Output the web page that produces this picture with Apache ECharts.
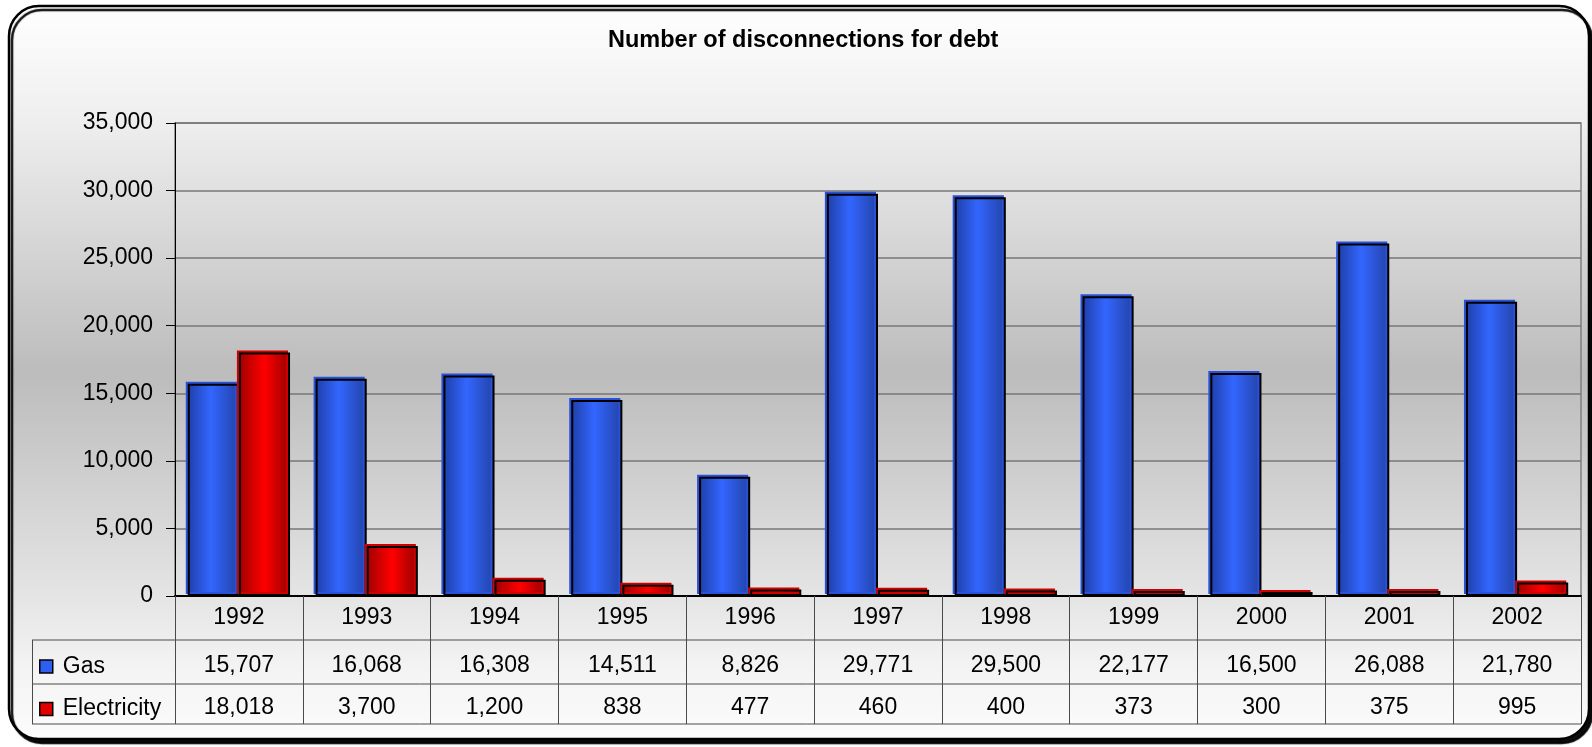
<!DOCTYPE html>
<html>
<head>
<meta charset="utf-8">
<title>Number of disconnections for debt</title>
<script src="https://cdn.jsdelivr.net/npm/echarts@6/dist/echarts.min.js"></script>
<style>
  html, body { margin: 0; padding: 0; background: #ffffff; }
  #chart { width: 1592px; height: 747px; }
</style>
</head>
<body>
<div id="chart"></div>
<script>
// Chart data
const years = ['1992', '1993', '1994', '1995', '1996', '1997', '1998', '1999', '2000', '2001', '2002'];
const gasValues = [15707, 16068, 16308, 14511, 8826, 29771, 29500, 22177, 16500, 26088, 21780];
const electricityValues = [18018, 3700, 1200, 838, 477, 460, 400, 373, 300, 375, 995];
const seriesNames = ['Gas', 'Electricity'];
const yTicks = { min: 0, max: 35000, interval: 5000 };

// Layout of the plot and the data table under it
const W = 1592, H = 747;
const plotLeft = 175, plotRight = 1581, plotTop = 123, plotBottom = 596;
const rowH = [44, 44, 40];
const tableLeft = 32;
const FONT = '"Liberation Sans", Arial, sans-serif';
const TEXT_SIZE = 23;

const fmt = v => v.toLocaleString('en-US');

const blueFill = new echarts.graphic.LinearGradient(0, 0, 1, 0, [
  { offset: 0, color: '#1f3fa8' },
  { offset: 0.45, color: '#3366ff' },
  { offset: 1, color: '#2242a6' }
]);
const redFill = new echarts.graphic.LinearGradient(0, 0, 1, 0, [
  { offset: 0, color: '#a00000' },
  { offset: 0.5, color: '#ff0000' },
  { offset: 1, color: '#960000' }
]);

const chart = echarts.init(document.getElementById('chart'), null, { renderer: 'canvas' });

// Table rule lines (row separators and left edge of the legend column)
const y1 = plotBottom + rowH[0];
const y2 = y1 + rowH[1];
const y3 = y2 + rowH[2];
const ruleStyle = { stroke: '#4a4a4a', lineWidth: 1 };
const tableLines = [
  { type: 'line', shape: { x1: tableLeft, y1: y1, x2: plotRight, y2: y1 }, style: ruleStyle, z: 5 },
  { type: 'line', shape: { x1: tableLeft, y1: y2, x2: plotRight, y2: y2 }, style: ruleStyle, z: 5 },
  { type: 'line', shape: { x1: tableLeft, y1: y3, x2: plotRight, y2: y3 }, style: ruleStyle, z: 5 },
  { type: 'line', shape: { x1: tableLeft + 0.5, y1: y1, x2: tableLeft + 0.5, y2: y3 }, style: ruleStyle, z: 5 }
];

const option = {
  backgroundColor: '#ffffff',
  animation: false,
  textStyle: { fontFamily: FONT },
  title: {
    text: 'Number of disconnections for debt',
    left: 608,
    top: 29,
    padding: 0,
    textStyle: { fontFamily: FONT, fontSize: 23.5, fontWeight: 'bold', color: '#000' }
  },
  legend: {
    orient: 'vertical',
    left: 39,
    top: y1 + 15,
    padding: 0,
    itemWidth: 13,
    itemHeight: 13,
    itemGap: 19.5,
    icon: 'rect',
    selectedMode: false,
    textStyle: { fontFamily: FONT, fontSize: TEXT_SIZE, color: '#000', padding: [0, 0, 0, 5] },
    data: [
      { name: 'Gas', itemStyle: { color: '#2f5ff0', borderColor: '#000', borderWidth: 1.5 } },
      { name: 'Electricity', itemStyle: { color: '#e00000', borderColor: '#000', borderWidth: 1.5 } }
    ]
  },
  grid: {
    left: plotLeft,
    right: W - plotRight,
    top: plotTop,
    bottom: H - plotBottom,
    show: true,
    backgroundColor: 'transparent',
    borderColor: '#808080',
    borderWidth: 1.5
  },
  xAxis: {
    type: 'category',
    data: years,
    boundaryGap: true,
    axisLine: { lineStyle: { color: '#000', width: 2 } },
    axisTick: { show: true, inside: false, length: rowH[0] + rowH[1] + rowH[2], lineStyle: { color: '#4a4a4a', width: 1 } },
    axisLabel: {
      margin: 0,
      interval: 0,
      formatter: (val, idx) =>
        '{y|' + val + '}\n{g|' + fmt(gasValues[idx]) + '}\n{e|' + fmt(electricityValues[idx]) + '}',
      rich: {
        y: { fontFamily: FONT, fontSize: TEXT_SIZE, color: '#000', lineHeight: 44, align: 'center' },
        g: { fontFamily: FONT, fontSize: TEXT_SIZE, color: '#000', lineHeight: 52, align: 'center' },
        e: { fontFamily: FONT, fontSize: TEXT_SIZE, color: '#000', lineHeight: 32, align: 'center' }
      }
    },
    splitLine: { show: false }
  },
  yAxis: {
    type: 'value',
    min: yTicks.min,
    max: yTicks.max,
    interval: yTicks.interval,
    axisLine: { show: true, lineStyle: { color: '#000', width: 1 } },
    axisTick: { show: true, length: 9, lineStyle: { color: '#000', width: 1 } },
    axisLabel: { margin: 22, fontFamily: FONT, fontSize: TEXT_SIZE, color: '#000', formatter: v => fmt(v) },
    splitLine: { lineStyle: { color: '#777777', width: 1.5 } }
  },
  series: [
    {
      name: seriesNames[0],
      type: 'bar',
      data: gasValues,
      barGap: '0%',
      barCategoryGap: '20%',
      itemStyle: {
        color: blueFill,
        borderColor: '#000',
        borderWidth: 2,
        shadowColor: '#2a52d8',
        shadowOffsetX: -2,
        shadowOffsetY: -2,
        shadowBlur: 0
      }
    },
    {
      name: seriesNames[1],
      type: 'bar',
      data: electricityValues,
      barGap: '0%',
      barCategoryGap: '20%',
      itemStyle: {
        color: redFill,
        borderColor: '#000',
        borderWidth: 2,
        shadowColor: '#d00000',
        shadowOffsetX: -2,
        shadowOffsetY: -2,
        shadowBlur: 0
      }
    }
  ],
  graphic: [
    {
      type: 'rect',
      z: -10,
      silent: true,
      shape: { x: 9, y: 6, width: W - 12, height: H - 14, r: 30 },
      style: {
        fill: new echarts.graphic.LinearGradient(0, 0, 0, 1, [
          { offset: 0, color: '#ffffff' },
          { offset: 0.16, color: '#eeeeee' },
          { offset: 0.5, color: '#bcbcbc' },
          { offset: 0.8, color: '#e4e4e4' },
          { offset: 0.9, color: '#f3f3f3' },
          { offset: 1, color: '#fcfcfc' }
        ]),
        stroke: '#000',
        lineWidth: 2.5,
        shadowColor: 'rgba(0,0,0,0.95)',
        shadowOffsetX: 3,
        shadowOffsetY: 4,
        shadowBlur: 1
      }
    }
  ].concat(tableLines)
};

chart.setOption(option);
</script>
</body>
</html>
